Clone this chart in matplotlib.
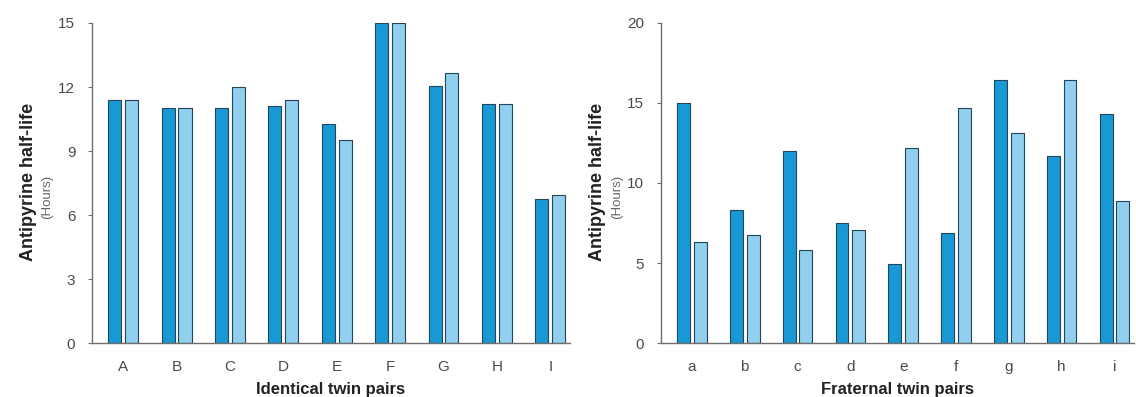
import matplotlib
matplotlib.use("Agg")
import matplotlib.pyplot as plt
import numpy as np

plt.rcParams["font.family"] = ["Liberation Sans", "DejaVu Sans"]

identical_pairs = ["A", "B", "C", "D", "E", "F", "G", "H", "I"]
identical_twin1 = [11.4, 11.0, 11.0, 11.1, 10.25, 15.0, 12.05, 11.2, 6.75]
identical_twin2 = [11.4, 11.0, 12.0, 11.4, 9.5, 15.0, 12.65, 11.2, 6.95]

fraternal_pairs = ["a", "b", "c", "d", "e", "f", "g", "h", "i"]
fraternal_twin1 = [15.0, 8.3, 12.0, 7.5, 4.95, 6.9, 16.4, 11.7, 14.3]
fraternal_twin2 = [6.3, 6.75, 5.85, 7.05, 12.2, 14.65, 13.15, 16.4, 8.9]

identical_ticks = [0, 3, 6, 9, 12, 15]
fraternal_ticks = [0, 5, 10, 15, 20]

DARK = "#1899d6"
LIGHT = "#90cfee"
EDGE = "#24445a"
AXIS = "#6e6e6e"
TEXT = "#4a4a4a"

W, H = 1136, 397
fig = plt.figure(figsize=(W / 100, H / 100), dpi=100)


def px_axes(x0, x1, y_top, y_bottom):
    return fig.add_axes([x0 / W, 1 - y_bottom / H, (x1 - x0) / W, (y_bottom - y_top) / H])


def draw_panel(ax, pairs, twin1, twin2, ticks, xlabel):
    x = np.arange(len(pairs))
    width = 0.245
    offset = 0.158
    ax.bar(x - offset, twin1, width, color=DARK, edgecolor=EDGE, linewidth=0.8)
    ax.bar(x + offset, twin2, width, color=LIGHT, edgecolor=EDGE, linewidth=0.8)
    ax.set_xlim(-0.585, 8.37)
    ax.set_ylim(0, ticks[-1])
    ax.set_yticks(ticks)
    ax.set_xticks(x)
    ax.set_xticklabels(pairs)
    for side in ["top", "right"]:
        ax.spines[side].set_visible(False)
    for side in ["left", "bottom"]:
        ax.spines[side].set_color(AXIS)
        ax.spines[side].set_linewidth(1.0)
    ax.tick_params(axis="x", length=0, pad=12, labelsize=11, labelcolor=TEXT)
    ax.tick_params(axis="y", length=3, width=0.8, color=AXIS, pad=9,
                   labelsize=11, labelcolor=TEXT)
    ax.set_xlabel(xlabel, fontsize=12, fontweight="bold", color="#222222", labelpad=6)


ax1 = px_axes(92, 570, 23, 343.3)
draw_panel(ax1, identical_pairs, identical_twin1, identical_twin2,
           identical_ticks, "Identical twin pairs")

ax2 = px_axes(661, 1134, 22.7, 343.3)
draw_panel(ax2, fraternal_pairs, fraternal_twin1, fraternal_twin2,
           fraternal_ticks, "Fraternal twin pairs")

# two-line y labels: bold title, lighter units
for x_bold, x_unit in [(29, 47), (598, 617)]:
    fig.text(x_bold / W, 1 - 182 / H, "Antipyrine half-life", rotation=90,
             ha="center", va="center", fontsize=13, fontweight="bold", color="#222222")
    fig.text(x_unit / W, 1 - 197 / H, "(Hours)", rotation=90,
             ha="center", va="center", fontsize=9.5, color="#666666")

fig.savefig("out.png", dpi=100)
